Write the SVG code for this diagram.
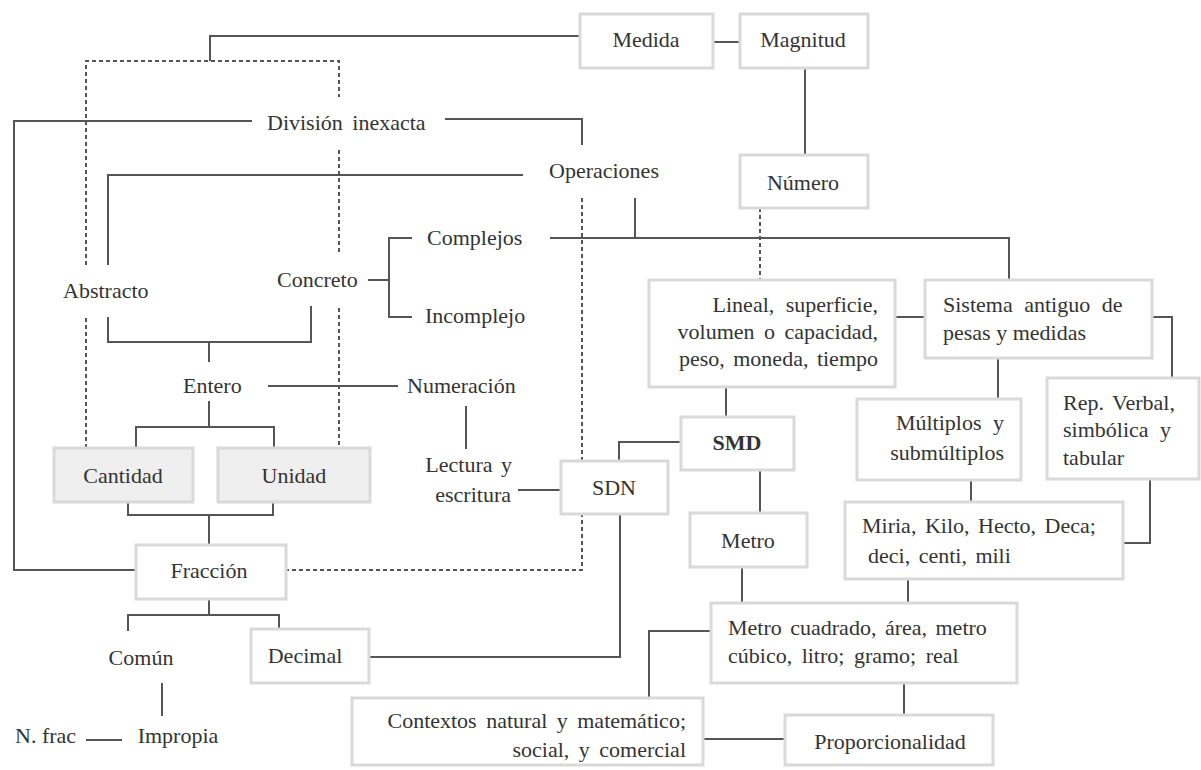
<svg xmlns="http://www.w3.org/2000/svg" width="1201" height="770" viewBox="0 0 1201 770">
<style>
.bg{fill:#ffffff}
.box{fill:#ffffff;stroke:#d9d9d9;stroke-width:3}
.gbox{fill:#efefef;stroke:#d9d9d9;stroke-width:3}
.ln{fill:none;stroke:#555555;stroke-width:2}
.dl{fill:none;stroke:#555555;stroke-width:2;stroke-dasharray:4 3}
text{font-family:"Liberation Serif","Times New Roman",serif;font-size:22px;fill:#333333}
.c{text-anchor:middle}
.e{text-anchor:end}
.b{font-weight:bold}
</style>
<rect class="bg" x="0" y="0" width="1201" height="770"/>
<g id="connectors">
<path class="ln" d="M580,36 H210 V61"/>
<path class="ln" d="M713,42 H740"/>
<path class="ln" d="M805,68 V155"/>
<path class="ln" d="M252,121 H14 V570 H136"/>
<path class="ln" d="M445,119 H582 V145"/>
<path class="ln" d="M523,175 H108 V265"/>
<path class="ln" d="M635,198 V238"/>
<path class="ln" d="M550,238 H1009 V280"/>
<path class="ln" d="M368,280 H389"/>
<path class="ln" d="M412,238 H389 V317 H412"/>
<path class="ln" d="M108,317 V342 H311 V306"/>
<path class="ln" d="M209,342 V362"/>
<path class="ln" d="M268,386 H398"/>
<path class="ln" d="M466,406 V449"/>
<path class="ln" d="M518,490 H561"/>
<path class="ln" d="M680,442 H619 V461"/>
<path class="ln" d="M726,387 V417"/>
<path class="ln" d="M760,470 V513"/>
<path class="ln" d="M895,317 H925"/>
<path class="ln" d="M1152,317 H1172 V378"/>
<path class="ln" d="M998,358 V399"/>
<path class="ln" d="M1150,479 V543 H1123"/>
<path class="ln" d="M971,480 V502"/>
<path class="ln" d="M908,579 V603"/>
<path class="ln" d="M742,567 V603"/>
<path class="ln" d="M711,631 H649 V698"/>
<path class="ln" d="M904,683 V715"/>
<path class="ln" d="M703,739 H785"/>
<path class="ln" d="M209,401 V427"/>
<path class="ln" d="M136,448 V427 H274 V448"/>
<path class="ln" d="M128,502 V515 H273 V502"/>
<path class="ln" d="M209,515 V545"/>
<path class="ln" d="M209,599 V615"/>
<path class="ln" d="M128,631 V615 H279 V629"/>
<path class="ln" d="M369,657 H620 V514"/>
<path class="ln" d="M162,683 V716"/>
<path class="ln" d="M86,740 H122"/>
<path class="dl" d="M86,265 V61 H339 V97"/>
<path class="dl" d="M339,150 V255"/>
<path class="dl" d="M339,308 V448"/>
<path class="dl" d="M86,318 V448"/>
<path class="dl" d="M582,198 V570 H286"/>
<path class="dl" d="M760,208 V280"/>
</g>
<g id="medida"><rect class="box" x="580" y="14" width="133" height="54"/><text class="c" x="646" y="47">Medida</text></g>
<g id="magnitud"><rect class="box" x="740" y="14" width="128" height="54"/><text class="c" x="803" y="47">Magnitud</text></g>
<g id="numero"><rect class="box" x="740" y="155" width="128" height="53"/><text class="c" x="803" y="190">Número</text></g>
<g id="division"><text x="267" y="130" word-spacing="4">División inexacta</text></g>
<g id="operaciones"><text x="549" y="178">Operaciones</text></g>
<g id="complejos"><text x="427" y="245">Complejos</text></g>
<g id="concreto"><text x="277" y="287">Concreto</text></g>
<g id="incomplejo"><text x="425" y="323">Incomplejo</text></g>
<g id="abstracto"><text x="63" y="298">Abstracto</text></g>
<g id="entero"><text x="183" y="393">Entero</text></g>
<g id="numeracion"><text x="407" y="393">Numeración</text></g>
<g id="lectura"><text class="e" x="512" y="472" word-spacing="3">Lectura y</text><text class="e" x="511" y="502">escritura</text></g>
<g id="lineal"><rect class="box" x="649" y="280" width="246" height="107"/><text class="e" x="878" y="312" word-spacing="6">Lineal, superficie,</text><text class="e" x="878" y="339" word-spacing="4">volumen o capacidad,</text><text class="e" x="878" y="366" word-spacing="3">peso, moneda, tiempo</text></g>
<g id="sistema"><rect class="box" x="925" y="280" width="227" height="78"/><text x="943" y="312" word-spacing="6">Sistema antiguo de</text><text x="943" y="340">pesas y medidas</text></g>
<g id="multiplos"><rect class="box" x="857" y="399" width="164" height="81"/><text class="e" x="1004" y="430" word-spacing="6">Múltiplos y</text><text class="e" x="1004" y="460">submúltiplos</text></g>
<g id="rep"><rect class="box" x="1047" y="378" width="152" height="101"/><text x="1063" y="410" word-spacing="3">Rep. Verbal,</text><text x="1063" y="437" word-spacing="6">simbólica y</text><text x="1063" y="465">tabular</text></g>
<g id="smd"><rect class="box" x="681" y="417" width="113" height="53"/><text class="c b" x="737" y="450">SMD</text></g>
<g id="sdn"><rect class="box" x="561" y="461" width="107" height="53"/><text class="c" x="614" y="495">SDN</text></g>
<g id="miria"><rect class="box" x="845" y="502" width="278" height="77"/><text x="862" y="533" word-spacing="3">Miria, Kilo, Hecto, Deca;</text><text x="868" y="563" word-spacing="3">deci, centi, mili</text></g>
<g id="metro"><rect class="box" x="690" y="513" width="117" height="54"/><text class="c" x="748" y="548">Metro</text></g>
<g id="metrocuadrado"><rect class="box" x="711" y="603" width="306" height="80"/><text x="728" y="635" word-spacing="3">Metro cuadrado, área, metro</text><text x="728" y="663" word-spacing="4">cúbico, litro; gramo; real</text></g>
<g id="contextos"><rect class="box" x="352" y="698" width="351" height="67"/><text class="e" x="686" y="728" word-spacing="4">Contextos natural y matemático;</text><text class="e" x="686" y="757" word-spacing="4">social, y comercial</text></g>
<g id="proporcionalidad"><rect class="box" x="785" y="715" width="208" height="50"/><text class="c" x="890" y="749">Proporcionalidad</text></g>
<g id="cantidad"><rect class="gbox" x="54" y="448" width="139" height="54"/><text class="c" x="123" y="483">Cantidad</text></g>
<g id="unidad"><rect class="gbox" x="218" y="448" width="152" height="54"/><text class="c" x="294" y="483">Unidad</text></g>
<g id="fraccion"><rect class="box" x="136" y="545" width="150" height="54"/><text class="c" x="209" y="578">Fracción</text></g>
<g id="decimal"><rect class="box" x="251" y="629" width="118" height="54"/><text class="c" x="305" y="663">Decimal</text></g>
<g id="comun"><text class="c" x="141" y="665">Común</text></g>
<g id="impropia"><text class="c" x="178" y="743">Impropia</text></g>
<g id="nfrac"><text x="15" y="743">N. frac</text></g>
</svg>
